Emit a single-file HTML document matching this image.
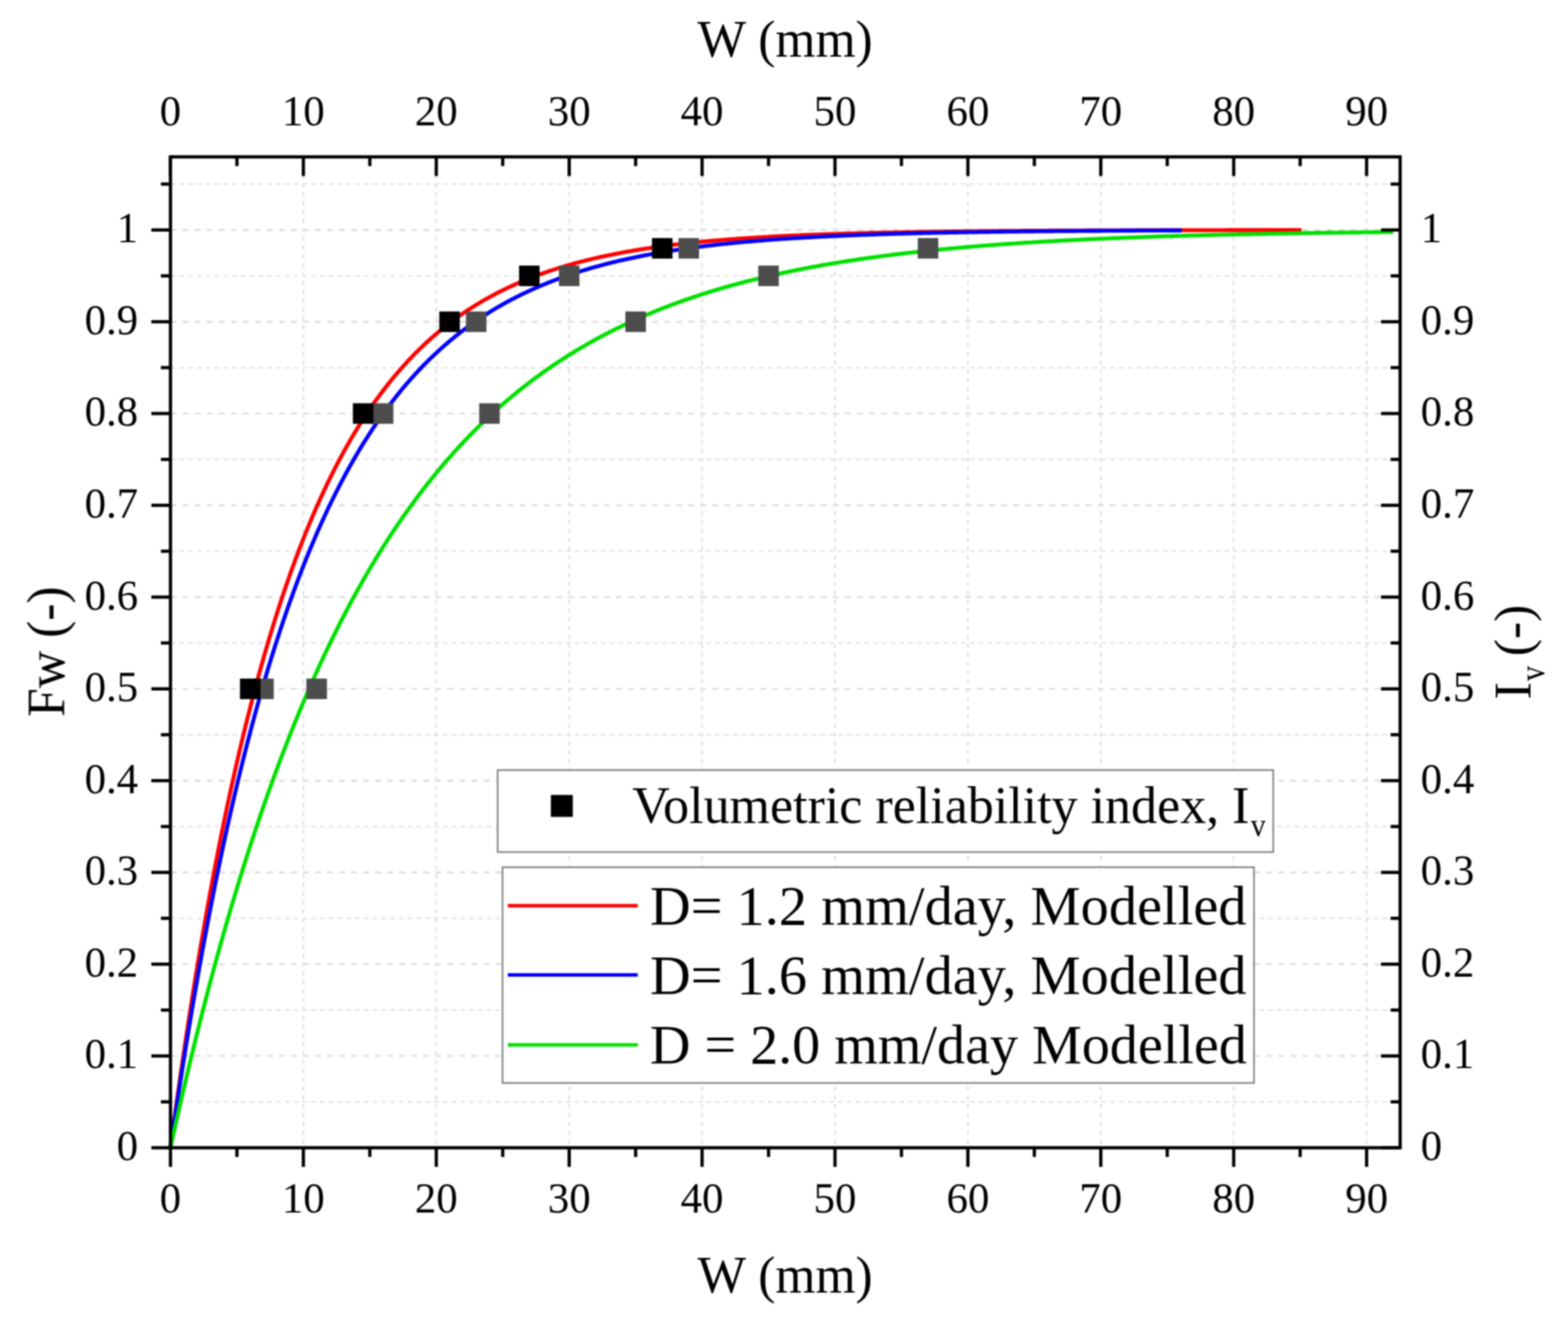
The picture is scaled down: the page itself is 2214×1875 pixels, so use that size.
<!DOCTYPE html><html><head><meta charset="utf-8"><title>Fw vs W</title><style>html,body{margin:0;padding:0;background:#fff;overflow:hidden;}svg{display:block;} text{font-family:'Liberation Serif', 'Times New Roman', serif;fill:#000;}</style></head><body>
<svg width="2214" height="1875" viewBox="0 0 2214 1875">
<rect x="0" y="0" width="2214" height="1875" fill="#fff"/>
<defs><filter id="soft" x="0" y="0" width="2214" height="1875" filterUnits="userSpaceOnUse" color-interpolation-filters="sRGB"><feConvolveMatrix order="5" kernelMatrix="1 4 6 4 1 4 16 24 16 4 6 24 36 24 6 4 16 24 16 4 1 4 6 4 1" divisor="256" edgeMode="duplicate"/></filter></defs>
<g filter="url(#soft)">
<g><line x1="240.7" y1="1555.71" x2="1977.0" y2="1555.71" stroke="#e2e2e2" stroke-width="2.2" stroke-dasharray="7 5.4"/><line x1="240.7" y1="1490.92" x2="1977.0" y2="1490.92" stroke="#dadada" stroke-width="2.4" stroke-dasharray="8.5 8.5"/><line x1="240.7" y1="1426.13" x2="1977.0" y2="1426.13" stroke="#e2e2e2" stroke-width="2.2" stroke-dasharray="7 5.4"/><line x1="240.7" y1="1361.34" x2="1977.0" y2="1361.34" stroke="#dadada" stroke-width="2.4" stroke-dasharray="8.5 8.5"/><line x1="240.7" y1="1296.55" x2="1977.0" y2="1296.55" stroke="#e2e2e2" stroke-width="2.2" stroke-dasharray="7 5.4"/><line x1="240.7" y1="1231.76" x2="1977.0" y2="1231.76" stroke="#dadada" stroke-width="2.4" stroke-dasharray="8.5 8.5"/><line x1="240.7" y1="1166.97" x2="1977.0" y2="1166.97" stroke="#e2e2e2" stroke-width="2.2" stroke-dasharray="7 5.4"/><line x1="240.7" y1="1102.18" x2="1977.0" y2="1102.18" stroke="#dadada" stroke-width="2.4" stroke-dasharray="8.5 8.5"/><line x1="240.7" y1="1037.39" x2="1977.0" y2="1037.39" stroke="#e2e2e2" stroke-width="2.2" stroke-dasharray="7 5.4"/><line x1="240.7" y1="972.60" x2="1977.0" y2="972.60" stroke="#dadada" stroke-width="2.4" stroke-dasharray="8.5 8.5"/><line x1="240.7" y1="907.81" x2="1977.0" y2="907.81" stroke="#e2e2e2" stroke-width="2.2" stroke-dasharray="7 5.4"/><line x1="240.7" y1="843.02" x2="1977.0" y2="843.02" stroke="#dadada" stroke-width="2.4" stroke-dasharray="8.5 8.5"/><line x1="240.7" y1="778.23" x2="1977.0" y2="778.23" stroke="#e2e2e2" stroke-width="2.2" stroke-dasharray="7 5.4"/><line x1="240.7" y1="713.44" x2="1977.0" y2="713.44" stroke="#dadada" stroke-width="2.4" stroke-dasharray="8.5 8.5"/><line x1="240.7" y1="648.65" x2="1977.0" y2="648.65" stroke="#e2e2e2" stroke-width="2.2" stroke-dasharray="7 5.4"/><line x1="240.7" y1="583.86" x2="1977.0" y2="583.86" stroke="#dadada" stroke-width="2.4" stroke-dasharray="8.5 8.5"/><line x1="240.7" y1="519.07" x2="1977.0" y2="519.07" stroke="#e2e2e2" stroke-width="2.2" stroke-dasharray="7 5.4"/><line x1="240.7" y1="454.28" x2="1977.0" y2="454.28" stroke="#dadada" stroke-width="2.4" stroke-dasharray="8.5 8.5"/><line x1="240.7" y1="389.49" x2="1977.0" y2="389.49" stroke="#e2e2e2" stroke-width="2.2" stroke-dasharray="7 5.4"/><line x1="240.7" y1="324.70" x2="1977.0" y2="324.70" stroke="#dadada" stroke-width="2.4" stroke-dasharray="8.5 8.5"/><line x1="240.7" y1="259.91" x2="1977.0" y2="259.91" stroke="#e2e2e2" stroke-width="2.2" stroke-dasharray="7 5.4"/><line x1="428.36" y1="221.5" x2="428.36" y2="1620.5" stroke="#e0e0e0" stroke-width="2.5" stroke-dasharray="6 6.5"/><line x1="616.02" y1="221.5" x2="616.02" y2="1620.5" stroke="#e0e0e0" stroke-width="2.5" stroke-dasharray="6 6.5"/><line x1="803.68" y1="221.5" x2="803.68" y2="1620.5" stroke="#e0e0e0" stroke-width="2.5" stroke-dasharray="6 6.5"/><line x1="991.34" y1="221.5" x2="991.34" y2="1620.5" stroke="#e0e0e0" stroke-width="2.5" stroke-dasharray="6 6.5"/><line x1="1179.00" y1="221.5" x2="1179.00" y2="1620.5" stroke="#e0e0e0" stroke-width="2.5" stroke-dasharray="6 6.5"/><line x1="1366.66" y1="221.5" x2="1366.66" y2="1620.5" stroke="#e0e0e0" stroke-width="2.5" stroke-dasharray="6 6.5"/><line x1="1554.32" y1="221.5" x2="1554.32" y2="1620.5" stroke="#e0e0e0" stroke-width="2.5" stroke-dasharray="6 6.5"/><line x1="1741.98" y1="221.5" x2="1741.98" y2="1620.5" stroke="#e0e0e0" stroke-width="2.5" stroke-dasharray="6 6.5"/><line x1="1929.64" y1="221.5" x2="1929.64" y2="1620.5" stroke="#e0e0e0" stroke-width="2.5" stroke-dasharray="6 6.5"/></g>
<polyline points="240.70,1620.50 240.79,1619.85 240.94,1618.67 241.15,1617.13 241.39,1615.32 241.66,1613.27 241.97,1611.00 242.30,1608.54 242.65,1605.91 243.03,1603.11 243.43,1600.15 243.85,1597.05 244.28,1593.82 244.74,1590.45 245.22,1586.97 245.71,1583.36 246.22,1579.65 246.74,1575.83 247.29,1571.90 247.84,1567.88 248.41,1563.77 249.00,1559.56 249.60,1555.27 250.21,1550.90 250.84,1546.44 251.48,1541.91 252.13,1537.30 252.80,1532.63 253.48,1527.88 254.17,1523.07 254.87,1518.19 255.58,1513.25 256.31,1508.25 257.05,1503.20 257.80,1498.09 258.55,1492.92 259.33,1487.71 260.11,1482.45 260.90,1477.14 261.70,1471.78 262.51,1466.38 263.34,1460.94 264.17,1455.45 265.01,1449.93 265.87,1444.38 266.73,1438.78 267.60,1433.15 268.48,1427.49 269.38,1421.80 270.28,1416.08 271.19,1410.33 272.11,1404.55 273.03,1398.75 273.97,1392.92 274.92,1387.07 275.87,1381.20 276.84,1375.31 277.81,1369.40 278.79,1363.46 279.78,1357.52 280.78,1351.55 281.78,1345.57 282.80,1339.58 283.82,1333.57 284.85,1327.56 285.89,1321.53 286.93,1315.49 287.99,1309.44 289.05,1303.38 290.12,1297.32 291.20,1291.25 292.29,1285.18 293.38,1279.10 294.48,1273.02 295.59,1266.93 296.71,1260.85 297.83,1254.76 298.96,1248.67 300.10,1242.58 301.25,1236.50 302.40,1230.42 303.56,1224.33 304.73,1218.26 305.90,1212.18 307.09,1206.12 308.27,1200.05 309.47,1194.00 310.67,1187.95 311.88,1181.91 313.10,1175.87 314.32,1169.85 315.55,1163.83 316.79,1157.83 318.04,1151.84 319.29,1145.85 320.54,1139.88 321.81,1133.92 323.08,1127.97 324.36,1122.04 325.64,1116.12 326.93,1110.22 328.23,1104.33 329.53,1098.45 330.84,1092.59 332.15,1086.75 333.48,1080.92 334.81,1075.11 336.14,1069.32 337.48,1063.55 338.83,1057.79 340.18,1052.05 341.54,1046.34 342.91,1040.64 344.28,1034.96 345.66,1029.30 347.04,1023.66 348.43,1018.05 349.83,1012.45 351.23,1006.87 352.64,1001.32 354.05,995.79 355.47,990.28 356.90,984.80 358.33,979.33 359.77,973.90 361.21,968.48 362.66,963.09 364.11,957.72 365.57,952.37 367.04,947.06 368.51,941.76 369.99,936.49 371.47,931.25 372.96,926.03 374.46,920.83 375.96,915.66 377.46,910.52 378.97,905.41 380.49,900.32 382.01,895.25 383.54,890.21 385.07,885.20 386.61,880.22 388.15,875.26 389.70,870.33 391.26,865.43 392.82,860.56 394.38,855.71 395.96,850.89 397.53,846.10 399.11,841.33 400.70,836.60 402.29,831.89 403.89,827.21 405.49,822.55 407.10,817.93 408.71,813.33 410.33,808.76 411.95,804.22 413.58,799.71 415.22,795.23 416.85,790.78 418.50,786.35 420.15,781.95 421.80,777.58 423.46,773.24 425.12,768.93 426.79,764.65 428.47,760.39 430.15,756.17 431.83,751.97 433.52,747.80 435.21,743.66 436.91,739.55 438.61,735.47 440.32,731.42 442.04,727.39 443.76,723.39 445.48,719.43 447.21,715.49 448.94,711.57 450.68,707.69 452.42,703.84 454.17,700.01 455.92,696.21 457.68,692.44 459.44,688.70 461.20,684.99 462.98,681.30 464.75,677.65 466.53,674.02 468.32,670.42 470.11,666.84 471.90,663.30 473.70,659.78 475.50,656.29 477.31,652.83 479.13,649.39 480.94,645.98 482.77,642.60 484.59,639.25 486.42,635.92 488.26,632.62 490.10,629.35 491.95,626.11 493.80,622.89 495.65,619.69 497.51,616.53 499.37,613.39 501.24,610.28 503.11,607.19 504.99,604.13 506.87,601.09 508.75,598.09 510.64,595.10 512.54,592.15 514.44,589.21 516.34,586.31 518.25,583.43 520.16,580.57 522.08,577.74 524.00,574.94 525.92,572.16 527.85,569.40 529.79,566.67 531.72,563.96 533.67,561.28 535.61,558.62 537.56,555.99 539.52,553.38 541.48,550.79 543.44,548.23 545.41,545.69 547.38,543.17 549.36,540.68 551.34,538.21 553.32,535.77 555.31,533.34 557.31,530.94 559.30,528.57 561.31,526.21 563.31,523.88 565.32,521.57 567.34,519.28 569.35,517.01 571.38,514.77 573.40,512.54 575.43,510.34 577.47,508.16 579.51,506.00 581.55,503.87 583.60,501.75 585.65,499.66 587.70,497.58 589.76,495.53 591.83,493.49 593.89,491.48 595.97,489.49 598.04,487.51 600.12,485.56 602.20,483.62 604.29,481.71 606.38,479.82 608.48,477.94 610.58,476.08 612.68,474.25 614.79,472.43 616.90,470.63 619.02,468.85 621.14,467.08 623.26,465.34 625.39,463.61 627.52,461.91 629.65,460.22 631.79,458.54 633.94,456.89 636.08,455.25 638.23,453.63 640.39,452.03 642.55,450.44 644.71,448.88 646.88,447.32 649.05,445.79 651.22,444.27 653.40,442.77 655.58,441.28 657.76,439.81 659.95,438.36 662.15,436.92 664.34,435.50 666.54,434.09 668.75,432.70 670.96,431.33 673.17,429.97 675.39,428.62 677.61,427.29 679.83,425.97 682.06,424.67 684.29,423.39 686.52,422.12 688.76,420.86 691.00,419.61 693.25,418.39 695.50,417.17 697.75,415.97 700.01,414.78 702.27,413.61 704.53,412.45 706.80,411.30 709.07,410.16 711.35,409.04 713.63,407.93 715.91,406.84 718.20,405.75 720.49,404.68 722.78,403.63 725.08,402.58 727.38,401.55 729.68,400.53 731.99,399.52 734.30,398.52 736.62,397.53 738.94,396.56 741.26,395.60 743.59,394.65 745.92,393.71 748.25,392.78 750.59,391.86 752.93,390.95 755.27,390.06 757.62,389.17 759.97,388.30 762.33,387.44 764.69,386.58 767.05,385.74 769.41,384.91 771.78,384.09 774.16,383.27 776.53,382.47 778.91,381.68 781.30,380.90 783.68,380.12 786.07,379.36 788.47,378.60 790.86,377.86 793.26,377.12 795.67,376.40 798.08,375.68 800.49,374.97 802.90,374.27 805.32,373.58 807.74,372.90 810.17,372.23 812.59,371.56 815.03,370.90 817.46,370.25 819.90,369.61 822.34,368.98 824.79,368.36 827.24,367.74 829.69,367.13 832.15,366.53 834.61,365.94 837.07,365.35 839.53,364.78 842.00,364.21 844.48,363.64 846.95,363.09 849.43,362.54 851.91,362.00 854.40,361.46 856.89,360.94 859.38,360.41 861.88,359.90 864.38,359.39 866.88,358.89 869.39,358.40 871.90,357.91 874.41,357.43 876.93,356.96 879.45,356.49 881.97,356.03 884.50,355.57 887.03,355.12 889.56,354.68 892.10,354.24 894.64,353.81 897.18,353.38 899.72,352.96 902.27,352.54 904.83,352.13 907.38,351.73 909.94,351.33 912.50,350.94 915.07,350.55 917.64,350.17 920.21,349.79 922.79,349.42 925.37,349.05 927.95,348.69 930.53,348.33 933.12,347.98 935.71,347.63 938.31,347.29 940.91,346.95 943.51,346.62 946.11,346.29 948.72,345.96 951.33,345.64 953.95,345.33 956.56,345.02 959.18,344.71 961.81,344.41 964.43,344.11 967.06,343.82 969.70,343.53 972.33,343.24 974.97,342.96 977.62,342.68 980.26,342.41 982.91,342.14 985.56,341.87 988.22,341.61 990.88,341.35 993.54,341.09 996.21,340.84 998.87,340.59 1001.54,340.35 1004.22,340.11 1006.90,339.87 1009.58,339.64 1012.26,339.40 1014.95,339.18 1017.64,338.95 1020.33,338.73 1023.03,338.51 1025.73,338.30 1028.43,338.09 1031.13,337.88 1033.84,337.67 1036.55,337.47 1039.27,337.27 1041.99,337.07 1044.71,336.88 1047.43,336.69 1050.16,336.50 1052.89,336.32 1055.62,336.13 1058.36,335.95 1061.10,335.77 1063.84,335.60 1066.58,335.43 1069.33,335.26 1072.08,335.09 1074.84,334.93 1077.60,334.76 1080.36,334.60 1083.12,334.45 1085.89,334.29 1088.66,334.14 1091.43,333.99 1094.20,333.84 1096.98,333.69 1099.76,333.55 1102.55,333.41 1105.34,333.27 1108.13,333.13 1110.92,332.99 1113.72,332.86 1116.52,332.73 1119.32,332.60 1122.13,332.47 1124.93,332.35 1127.75,332.22 1130.56,332.10 1133.38,331.98 1136.20,331.86 1139.02,331.75 1141.85,331.63 1144.68,331.52 1147.51,331.41 1150.34,331.30 1153.18,331.19 1156.02,331.08 1158.87,330.98 1161.72,330.88 1164.57,330.77 1167.42,330.67 1170.27,330.58 1173.13,330.48 1175.99,330.38 1178.86,330.29 1181.73,330.20 1184.60,330.11 1187.47,330.02 1190.35,329.93 1193.23,329.84 1196.11,329.76 1198.99,329.67 1201.88,329.59 1204.77,329.51 1207.67,329.43 1210.56,329.35 1213.46,329.27 1216.36,329.20 1219.27,329.12 1222.18,329.05 1225.09,328.97 1228.00,328.90 1230.92,328.83 1233.84,328.76 1236.76,328.69 1239.69,328.63 1242.61,328.56 1245.54,328.50 1248.48,328.43 1251.42,328.37 1254.35,328.31 1257.30,328.25 1260.24,328.19 1263.19,328.13 1266.14,328.07 1269.10,328.01 1272.05,327.95 1275.01,327.90 1277.97,327.84 1280.94,327.79 1283.91,327.74 1286.88,327.69 1289.85,327.64 1292.83,327.58 1295.81,327.54 1298.79,327.49 1301.77,327.44 1304.76,327.39 1307.75,327.35 1310.74,327.30 1313.74,327.26 1316.74,327.21 1319.74,327.17 1322.74,327.13 1325.75,327.08 1328.76,327.04 1331.77,327.00 1334.79,326.96 1337.81,326.92 1340.83,326.88 1343.85,326.85 1346.88,326.81 1349.91,326.77 1352.94,326.74 1355.97,326.70 1359.01,326.66 1362.05,326.63 1365.09,326.60 1368.14,326.56 1371.19,326.53 1374.24,326.50 1377.29,326.47 1380.35,326.44 1383.41,326.41 1386.47,326.38 1389.54,326.35 1392.61,326.32 1395.68,326.29 1398.75,326.26 1401.82,326.23 1404.90,326.21 1407.98,326.18 1411.07,326.15 1414.16,326.13 1417.24,326.10 1420.34,326.08 1423.43,326.05 1426.53,326.03 1429.63,326.00 1432.73,325.98 1435.84,325.96 1438.95,325.94 1442.06,325.91 1445.17,325.89 1448.29,325.87 1451.41,325.85 1454.53,325.83 1457.65,325.81 1460.78,325.79 1463.91,325.77 1467.04,325.75 1470.18,325.73 1473.31,325.71 1476.45,325.69 1479.60,325.68 1482.74,325.66 1485.89,325.64 1489.04,325.62 1492.20,325.61 1495.35,325.59 1498.51,325.57 1501.67,325.56 1504.84,325.54 1508.00,325.53 1511.17,325.51 1514.35,325.50 1517.52,325.48 1520.70,325.47 1523.88,325.45 1527.06,325.44 1530.25,325.43 1533.44,325.41 1536.63,325.40 1539.82,325.39 1543.01,325.38 1546.21,325.36 1549.41,325.35 1552.62,325.34 1555.82,325.33 1559.03,325.32 1562.25,325.30 1565.46,325.29 1568.68,325.28 1571.90,325.27 1575.12,325.26 1578.34,325.25 1581.57,325.24 1584.80,325.23 1588.03,325.22 1591.27,325.21 1594.50,325.20 1597.74,325.19 1600.99,325.18 1604.23,325.17 1607.48,325.16 1610.73,325.16 1613.98,325.15 1617.24,325.14 1620.50,325.13 1623.76,325.12 1627.02,325.11 1630.29,325.11 1633.55,325.10 1636.82,325.09 1640.10,325.08 1643.37,325.08 1646.65,325.07 1649.93,325.06 1653.22,325.06 1656.50,325.05 1659.79,325.04 1663.08,325.04 1666.38,325.03 1669.67,325.02 1672.97,325.02 1676.27,325.01 1679.58,325.01 1682.88,325.00 1686.19,324.99 1689.51,324.99 1692.82,324.98 1696.14,324.98 1699.45,324.97 1702.78,324.97 1706.10,324.96 1709.43,324.96 1712.76,324.95 1716.09,324.95 1719.42,324.94 1722.76,324.94 1726.10,324.93 1729.44,324.93 1732.78,324.92 1736.13,324.92 1739.48,324.92 1742.83,324.91 1746.19,324.91 1749.54,324.90 1752.90,324.90 1756.26,324.90 1759.63,324.89 1762.99,324.89 1766.36,324.88 1769.74,324.88 1773.11,324.88 1776.49,324.87 1779.87,324.87 1783.25,324.87 1786.63,324.86 1790.02,324.86 1793.41,324.86 1796.80,324.85 1800.19,324.85 1803.59,324.85 1806.99,324.85 1810.39,324.84 1813.79,324.84 1817.20,324.84 1820.61,324.83 1824.02,324.83 1827.43,324.83 1830.85,324.83 1834.27,324.82 1837.69,324.82" fill="none" stroke="#ff0000" stroke-width="5.6" stroke-linejoin="round"/>
<polyline points="240.70,1620.50 240.78,1619.96 240.92,1618.99 241.10,1617.72 241.32,1616.23 241.56,1614.53 241.83,1612.66 242.13,1610.63 242.44,1608.45 242.78,1606.13 243.14,1603.69 243.51,1601.12 243.91,1598.45 244.31,1595.66 244.74,1592.77 245.18,1589.78 245.64,1586.70 246.10,1583.53 246.59,1580.27 247.09,1576.93 247.60,1573.51 248.12,1570.01 248.66,1566.44 249.21,1562.80 249.77,1559.09 250.34,1555.31 250.92,1551.46 251.52,1547.56 252.12,1543.59 252.74,1539.57 253.37,1535.49 254.01,1531.35 254.66,1527.16 255.32,1522.93 255.99,1518.64 256.67,1514.30 257.36,1509.92 258.05,1505.49 258.76,1501.02 259.48,1496.51 260.21,1491.96 260.94,1487.36 261.69,1482.73 262.44,1478.07 263.21,1473.36 263.98,1468.63 264.76,1463.86 265.55,1459.05 266.34,1454.22 267.15,1449.36 267.96,1444.47 268.78,1439.55 269.61,1434.61 270.45,1429.64 271.30,1424.64 272.15,1419.62 273.01,1414.58 273.88,1409.52 274.76,1404.43 275.65,1399.33 276.54,1394.21 277.44,1389.07 278.34,1383.91 279.26,1378.74 280.18,1373.55 281.11,1368.34 282.05,1363.12 282.99,1357.89 283.94,1352.64 284.90,1347.39 285.86,1342.12 286.83,1336.84 287.81,1331.55 288.79,1326.26 289.79,1320.95 290.78,1315.64 291.79,1310.32 292.80,1305.00 293.82,1299.66 294.84,1294.33 295.88,1288.99 296.91,1283.64 297.96,1278.29 299.01,1272.94 300.06,1267.59 301.13,1262.24 302.20,1256.88 303.27,1251.53 304.36,1246.17 305.44,1240.82 306.54,1235.47 307.64,1230.12 308.74,1224.77 309.86,1219.42 310.98,1214.08 312.10,1208.74 313.23,1203.40 314.37,1198.07 315.51,1192.75 316.66,1187.43 317.81,1182.11 318.97,1176.80 320.13,1171.50 321.31,1166.21 322.48,1160.92 323.66,1155.64 324.85,1150.37 326.05,1145.11 327.25,1139.86 328.45,1134.62 329.66,1129.38 330.88,1124.16 332.10,1118.95 333.32,1113.75 334.56,1108.56 335.79,1103.38 337.04,1098.21 338.29,1093.06 339.54,1087.92 340.80,1082.79 342.06,1077.67 343.33,1072.57 344.61,1067.48 345.89,1062.40 347.17,1057.34 348.46,1052.30 349.76,1047.26 351.06,1042.25 352.37,1037.25 353.68,1032.26 354.99,1027.29 356.32,1022.34 357.64,1017.40 358.97,1012.48 360.31,1007.57 361.65,1002.68 363.00,997.81 364.35,992.96 365.71,988.12 367.07,983.30 368.43,978.50 369.80,973.72 371.18,968.95 372.56,964.21 373.95,959.48 375.34,954.77 376.73,950.08 378.13,945.41 379.54,940.76 380.95,936.12 382.36,931.51 383.78,926.92 385.20,922.34 386.63,917.79 388.06,913.25 389.50,908.74 390.94,904.25 392.39,899.77 393.84,895.32 395.30,890.89 396.76,886.47 398.22,882.08 399.69,877.71 401.17,873.36 402.65,869.03 404.13,864.73 405.62,860.44 407.11,856.17 408.61,851.93 410.11,847.71 411.62,843.51 413.13,839.33 414.64,835.17 416.16,831.03 417.68,826.92 419.21,822.83 420.74,818.76 422.28,814.71 423.82,810.68 425.37,806.67 426.92,802.69 428.47,798.73 430.03,794.79 431.59,790.87 433.16,786.98 434.73,783.10 436.30,779.25 437.88,775.42 439.47,771.62 441.06,767.83 442.65,764.07 444.24,760.33 445.85,756.61 447.45,752.91 449.06,749.24 450.67,745.59 452.29,741.96 453.91,738.35 455.54,734.76 457.17,731.20 458.80,727.66 460.44,724.14 462.08,720.64 463.72,717.17 465.37,713.72 467.03,710.29 468.69,706.88 470.35,703.49 472.02,700.13 473.69,696.78 475.36,693.46 477.04,690.16 478.72,686.88 480.41,683.63 482.10,680.39 483.79,677.18 485.49,673.99 487.19,670.82 488.90,667.67 490.61,664.55 492.32,661.44 494.04,658.36 495.76,655.30 497.48,652.26 499.21,649.24 500.95,646.24 502.68,643.26 504.42,640.31 506.17,637.37 507.92,634.46 509.67,631.56 511.42,628.69 513.18,625.84 514.95,623.01 516.72,620.20 518.49,617.41 520.26,614.64 522.04,611.89 523.82,609.16 525.61,606.45 527.40,603.77 529.19,601.10 530.99,598.45 532.79,595.82 534.60,593.21 536.40,590.63 538.22,588.06 540.03,585.51 541.85,582.98 543.68,580.47 545.50,577.98 547.33,575.51 549.17,573.06 551.01,570.62 552.85,568.21 554.69,565.82 556.54,563.44 558.39,561.08 560.25,558.74 562.11,556.43 563.97,554.12 565.84,551.84 567.71,549.58 569.58,547.33 571.46,545.11 573.34,542.90 575.23,540.70 577.12,538.53 579.01,536.38 580.90,534.24 582.80,532.12 584.70,530.02 586.61,527.93 588.52,525.86 590.43,523.81 592.35,521.78 594.27,519.76 596.19,517.77 598.12,515.78 600.05,513.82 601.98,511.87 603.92,509.94 605.86,508.02 607.80,506.12 609.75,504.24 611.70,502.38 613.66,500.53 615.61,498.69 617.58,496.87 619.54,495.07 621.51,493.29 623.48,491.51 625.45,489.76 627.43,488.02 629.41,486.30 631.40,484.59 633.39,482.89 635.38,481.22 637.37,479.55 639.37,477.90 641.37,476.27 643.38,474.65 645.39,473.05 647.40,471.46 649.41,469.88 651.43,468.32 653.45,466.77 655.48,465.24 657.51,463.72 659.54,462.22 661.57,460.73 663.61,459.25 665.65,457.79 667.70,456.34 669.75,454.90 671.80,453.48 673.85,452.07 675.91,450.68 677.97,449.29 680.03,447.92 682.10,446.57 684.17,445.22 686.25,443.89 688.32,442.57 690.40,441.27 692.49,439.97 694.57,438.69 696.66,437.42 698.76,436.17 700.85,434.92 702.95,433.69 705.06,432.47 707.16,431.26 709.27,430.06 711.38,428.88 713.50,427.71 715.62,426.54 717.74,425.39 719.86,424.25 721.99,423.12 724.12,422.01 726.26,420.90 728.40,419.81 730.54,418.72 732.68,417.65 734.83,416.59 736.98,415.53 739.13,414.49 741.29,413.46 743.44,412.44 745.61,411.43 747.77,410.43 749.94,409.44 752.11,408.46 754.29,407.49 756.46,406.53 758.65,405.58 760.83,404.64 763.02,403.71 765.21,402.79 767.40,401.88 769.60,400.98 771.79,400.08 774.00,399.20 776.20,398.32 778.41,397.46 780.62,396.60 782.84,395.75 785.05,394.92 787.27,394.09 789.50,393.26 791.72,392.45 793.95,391.65 796.19,390.85 798.42,390.06 800.66,389.29 802.90,388.51 805.14,387.75 807.39,387.00 809.64,386.25 811.90,385.51 814.15,384.78 816.41,384.06 818.67,383.35 820.94,382.64 823.21,381.94 825.48,381.25 827.75,380.56 830.03,379.89 832.31,379.22 834.59,378.55 836.88,377.90 839.16,377.25 841.46,376.61 843.75,375.98 846.05,375.35 848.35,374.73 850.65,374.11 852.96,373.51 855.27,372.91 857.58,372.32 859.89,371.73 862.21,371.15 864.53,370.57 866.85,370.01 869.18,369.45 871.51,368.89 873.84,368.34 876.18,367.80 878.51,367.26 880.85,366.73 883.20,366.21 885.54,365.69 887.89,365.18 890.25,364.67 892.60,364.17 894.96,363.68 897.32,363.19 899.68,362.70 902.05,362.22 904.42,361.75 906.79,361.28 909.16,360.82 911.54,360.36 913.92,359.91 916.30,359.47 918.69,359.02 921.08,358.59 923.47,358.16 925.87,357.73 928.26,357.31 930.66,356.89 933.06,356.48 935.47,356.07 937.88,355.67 940.29,355.28 942.70,354.88 945.12,354.49 947.54,354.11 949.96,353.73 952.39,353.36 954.81,352.99 957.24,352.62 959.68,352.26 962.11,351.90 964.55,351.55 966.99,351.20 969.44,350.86 971.88,350.52 974.33,350.18 976.79,349.85 979.24,349.52 981.70,349.19 984.16,348.87 986.62,348.56 989.09,348.24 991.56,347.93 994.03,347.63 996.50,347.33 998.98,347.03 1001.46,346.73 1003.94,346.44 1006.42,346.16 1008.91,345.87 1011.40,345.59 1013.89,345.31 1016.39,345.04 1018.89,344.77 1021.39,344.50 1023.89,344.24 1026.40,343.98 1028.91,343.72 1031.42,343.47 1033.93,343.22 1036.45,342.97 1038.97,342.72 1041.49,342.48 1044.02,342.24 1046.54,342.01 1049.07,341.77 1051.61,341.54 1054.14,341.32 1056.68,341.09 1059.22,340.87 1061.76,340.65 1064.31,340.44 1066.86,340.22 1069.41,340.01 1071.96,339.80 1074.52,339.60 1077.08,339.40 1079.64,339.20 1082.21,339.00 1084.77,338.80 1087.34,338.61 1089.91,338.42 1092.49,338.23 1095.07,338.05 1097.65,337.86 1100.23,337.68 1102.81,337.50 1105.40,337.33 1107.99,337.15 1110.58,336.98 1113.18,336.81 1115.78,336.65 1118.38,336.48 1120.98,336.32 1123.59,336.16 1126.19,336.00 1128.81,335.84 1131.42,335.69 1134.03,335.53 1136.65,335.38 1139.27,335.23 1141.90,335.09 1144.52,334.94 1147.15,334.80 1149.78,334.66 1152.42,334.52 1155.05,334.38 1157.69,334.24 1160.33,334.11 1162.98,333.98 1165.62,333.85 1168.27,333.72 1170.92,333.59 1173.58,333.47 1176.24,333.34 1178.89,333.22 1181.56,333.10 1184.22,332.98 1186.89,332.86 1189.56,332.75 1192.23,332.63 1194.90,332.52 1197.58,332.41 1200.26,332.30 1202.94,332.19 1205.62,332.08 1208.31,331.98 1211.00,331.87 1213.69,331.77 1216.38,331.67 1219.08,331.57 1221.78,331.47 1224.48,331.37 1227.18,331.28 1229.89,331.18 1232.60,331.09 1235.31,331.00 1238.03,330.91 1240.74,330.82 1243.46,330.73 1246.18,330.64 1248.90,330.56 1251.63,330.47 1254.36,330.39 1257.09,330.30 1259.82,330.22 1262.56,330.14 1265.30,330.06 1268.04,329.99 1270.78,329.91 1273.53,329.83 1276.28,329.76 1279.03,329.68 1281.78,329.61 1284.53,329.54 1287.29,329.47 1290.05,329.40 1292.82,329.33 1295.58,329.26 1298.35,329.19 1301.12,329.13 1303.89,329.06 1306.67,329.00 1309.44,328.93 1312.22,328.87 1315.00,328.81 1317.79,328.75 1320.58,328.69 1323.36,328.63 1326.16,328.57 1328.95,328.51 1331.75,328.46 1334.54,328.40 1337.35,328.35 1340.15,328.29 1342.96,328.24 1345.76,328.19 1348.57,328.13 1351.39,328.08 1354.20,328.03 1357.02,327.98 1359.84,327.93 1362.66,327.88 1365.49,327.84 1368.32,327.79 1371.15,327.74 1373.98,327.70 1376.81,327.65 1379.65,327.61 1382.49,327.56 1385.33,327.52 1388.17,327.48 1391.02,327.44 1393.87,327.39 1396.72,327.35 1399.57,327.31 1402.43,327.27 1405.28,327.23 1408.15,327.20 1411.01,327.16 1413.87,327.12 1416.74,327.08 1419.61,327.05 1422.48,327.01 1425.36,326.98 1428.23,326.94 1431.11,326.91 1433.99,326.87 1436.88,326.84 1439.76,326.81 1442.65,326.77 1445.54,326.74 1448.43,326.71 1451.33,326.68 1454.23,326.65 1457.12,326.62 1460.03,326.59 1462.93,326.56 1465.84,326.53 1468.75,326.50 1471.66,326.48 1474.57,326.45 1477.49,326.42 1480.41,326.39 1483.33,326.37 1486.25,326.34 1489.17,326.32 1492.10,326.29 1495.03,326.27 1497.96,326.24 1500.90,326.22 1503.83,326.19 1506.77,326.17 1509.71,326.15 1512.66,326.13 1515.60,326.10 1518.55,326.08 1521.50,326.06 1524.45,326.04 1527.41,326.02 1530.36,326.00 1533.32,325.98 1536.28,325.96 1539.25,325.94 1542.21,325.92 1545.18,325.90 1548.15,325.88 1551.12,325.86 1554.10,325.84 1557.07,325.82 1560.05,325.81 1563.04,325.79 1566.02,325.77 1569.01,325.75 1571.99,325.74 1574.98,325.72 1577.98,325.71 1580.97,325.69 1583.97,325.67 1586.97,325.66 1589.97,325.64 1592.97,325.63 1595.98,325.61 1598.99,325.60 1602.00,325.58 1605.01,325.57 1608.03,325.56 1611.05,325.54 1614.06,325.53 1617.09,325.52 1620.11,325.50 1623.14,325.49 1626.16,325.48 1629.20,325.46 1632.23,325.45 1635.26,325.44 1638.30,325.43 1641.34,325.42 1644.38,325.40 1647.42,325.39 1650.47,325.38 1653.52,325.37 1656.57,325.36 1659.62,325.35 1662.68,325.34 1665.73,325.33 1668.79,325.32" fill="none" stroke="#0000ff" stroke-width="5.6" stroke-linejoin="round"/>
<polyline points="240.70,1620.50 240.79,1620.07 240.96,1619.29 241.18,1618.28 241.45,1617.08 241.74,1615.73 242.07,1614.23 242.43,1612.60 242.81,1610.86 243.22,1609.00 243.65,1607.05 244.10,1604.99 244.58,1602.84 245.07,1600.61 245.58,1598.29 246.12,1595.89 246.67,1593.41 247.23,1590.87 247.82,1588.25 248.42,1585.56 249.04,1582.80 249.67,1579.99 250.32,1577.11 250.98,1574.17 251.66,1571.18 252.35,1568.13 253.06,1565.02 253.78,1561.86 254.51,1558.66 255.26,1555.40 256.02,1552.09 256.79,1548.74 257.57,1545.35 258.37,1541.90 259.18,1538.42 260.00,1534.90 260.84,1531.33 261.68,1527.73 262.54,1524.09 263.40,1520.41 264.28,1516.69 265.17,1512.94 266.07,1509.16 266.99,1505.34 267.91,1501.49 268.84,1497.61 269.78,1493.70 270.74,1489.76 271.70,1485.79 272.67,1481.80 273.66,1477.77 274.65,1473.72 275.66,1469.65 276.67,1465.55 277.69,1461.42 278.72,1457.28 279.77,1453.11 280.82,1448.92 281.88,1444.70 282.95,1440.47 284.03,1436.22 285.11,1431.95 286.21,1427.65 287.31,1423.35 288.43,1419.02 289.55,1414.68 290.68,1410.32 291.82,1405.94 292.97,1401.56 294.13,1397.15 295.30,1392.73 296.47,1388.30 297.65,1383.86 298.84,1379.40 300.04,1374.94 301.25,1370.46 302.46,1365.97 303.69,1361.47 304.92,1356.96 306.16,1352.44 307.40,1347.92 308.66,1343.38 309.92,1338.84 311.19,1334.29 312.47,1329.73 313.75,1325.17 315.05,1320.60 316.35,1316.02 317.65,1311.44 318.97,1306.86 320.29,1302.27 321.62,1297.67 322.96,1293.08 324.31,1288.48 325.66,1283.87 327.02,1279.27 328.38,1274.66 329.76,1270.05 331.14,1265.44 332.53,1260.83 333.92,1256.22 335.32,1251.61 336.73,1246.99 338.15,1242.38 339.57,1237.77 341.00,1233.16 342.44,1228.55 343.88,1223.95 345.33,1219.34 346.78,1214.74 348.25,1210.14 349.72,1205.55 351.19,1200.95 352.68,1196.36 354.17,1191.78 355.66,1187.20 357.17,1182.62 358.68,1178.05 360.19,1173.48 361.71,1168.92 363.24,1164.36 364.78,1159.81 366.32,1155.26 367.87,1150.72 369.42,1146.19 370.98,1141.67 372.55,1137.15 374.12,1132.64 375.70,1128.13 377.28,1123.64 378.87,1119.15 380.47,1114.67 382.08,1110.19 383.68,1105.73 385.30,1101.28 386.92,1096.83 388.55,1092.39 390.18,1087.96 391.82,1083.55 393.47,1079.14 395.12,1074.74 396.78,1070.35 398.44,1065.97 400.11,1061.60 401.79,1057.25 403.47,1052.90 405.15,1048.56 406.85,1044.24 408.54,1039.92 410.25,1035.62 411.96,1031.33 413.67,1027.05 415.39,1022.79 417.12,1018.53 418.85,1014.29 420.59,1010.06 422.33,1005.84 424.08,1001.63 425.84,997.44 427.60,993.26 429.37,989.09 431.14,984.94 432.91,980.80 434.70,976.67 436.48,972.55 438.28,968.45 440.08,964.37 441.88,960.29 443.69,956.23 445.51,952.19 447.33,948.16 449.15,944.14 450.98,940.13 452.82,936.15 454.66,932.17 456.51,928.21 458.36,924.27 460.22,920.33 462.08,916.42 463.95,912.52 465.82,908.63 467.70,904.76 469.59,900.90 471.48,897.06 473.37,893.24 475.27,889.43 477.17,885.63 479.08,881.85 481.00,878.09 482.92,874.34 484.84,870.60 486.77,866.89 488.71,863.18 490.65,859.50 492.59,855.83 494.54,852.17 496.50,848.53 498.46,844.91 500.42,841.30 502.39,837.71 504.37,834.14 506.35,830.58 508.33,827.04 510.32,823.51 512.32,820.00 514.32,816.50 516.32,813.03 518.33,809.56 520.35,806.12 522.36,802.69 524.39,799.28 526.42,795.88 528.45,792.50 530.49,789.13 532.53,785.79 534.58,782.46 536.63,779.14 538.69,775.84 540.75,772.56 542.82,769.29 544.89,766.05 546.97,762.81 549.05,759.60 551.13,756.40 553.22,753.21 555.32,750.05 557.42,746.89 559.52,743.76 561.63,740.64 563.75,737.54 565.87,734.46 567.99,731.39 570.12,728.34 572.25,725.30 574.38,722.28 576.53,719.28 578.67,716.29 580.82,713.32 582.98,710.37 585.14,707.43 587.30,704.51 589.47,701.60 591.64,698.71 593.82,695.84 596.00,692.99 598.19,690.15 600.38,687.32 602.57,684.51 604.77,681.72 606.98,678.95 609.19,676.19 611.40,673.44 613.62,670.72 615.84,668.00 618.07,665.31 620.30,662.63 622.53,659.97 624.77,657.32 627.02,654.69 629.26,652.07 631.52,649.47 633.77,646.88 636.03,644.31 638.30,641.76 640.57,639.22 642.84,636.70 645.12,634.19 647.40,631.70 649.69,629.23 651.98,626.77 654.28,624.32 656.58,621.89 658.88,619.48 661.19,617.08 663.50,614.69 665.82,612.32 668.14,609.97 670.47,607.63 672.80,605.31 675.13,603.00 677.47,600.70 679.81,598.42 682.15,596.16 684.50,593.91 686.86,591.68 689.22,589.46 691.58,587.25 693.95,585.06 696.32,582.88 698.69,580.72 701.07,578.57 703.46,576.44 705.84,574.32 708.23,572.22 710.63,570.12 713.03,568.05 715.43,565.99 717.84,563.94 720.25,561.90 722.67,559.88 725.09,557.88 727.51,555.88 729.94,553.91 732.37,551.94 734.81,549.99 737.25,548.05 739.69,546.13 742.14,544.21 744.59,542.32 747.05,540.43 749.51,538.56 751.97,536.70 754.44,534.86 756.91,533.03 759.39,531.21 761.87,529.41 764.35,527.61 766.84,525.83 769.33,524.07 771.83,522.31 774.33,520.57 776.83,518.84 779.34,517.13 781.85,515.42 784.36,513.73 786.88,512.05 789.40,510.39 791.93,508.73 794.46,507.09 797.00,505.46 799.53,503.85 802.08,502.24 804.62,500.65 807.17,499.07 809.73,497.50 812.28,495.94 814.84,494.39 817.41,492.86 819.98,491.34 822.55,489.83 825.13,488.33 827.71,486.84 830.29,485.36 832.88,483.90 835.47,482.44 838.07,481.00 840.67,479.57 843.27,478.15 845.88,476.74 848.49,475.34 851.10,473.95 853.72,472.57 856.34,471.21 858.96,469.85 861.59,468.51 864.23,467.17 866.86,465.85 869.50,464.54 872.15,463.23 874.79,461.94 877.45,460.66 880.10,459.39 882.76,458.12 885.42,456.87 888.09,455.63 890.76,454.40 893.43,453.18 896.11,451.96 898.79,450.76 901.47,449.57 904.16,448.39 906.85,447.21 909.55,446.05 912.25,444.90 914.95,443.75 917.65,442.62 920.36,441.49 923.08,440.37 925.79,439.27 928.51,438.17 931.24,437.08 933.97,436.00 936.70,434.93 939.43,433.87 942.17,432.81 944.91,431.77 947.66,430.73 950.41,429.71 953.16,428.69 955.92,427.68 958.68,426.68 961.44,425.68 964.21,424.70 966.98,423.72 969.75,422.75 972.53,421.79 975.31,420.84 978.09,419.90 980.88,418.97 983.67,418.04 986.47,417.12 989.26,416.21 992.07,415.30 994.87,414.41 997.68,413.52 1000.49,412.64 1003.31,411.77 1006.13,410.90 1008.95,410.05 1011.78,409.20 1014.61,408.35 1017.44,407.52 1020.28,406.69 1023.12,405.87 1025.96,405.06 1028.81,404.25 1031.66,403.45 1034.51,402.66 1037.37,401.88 1040.23,401.10 1043.09,400.33 1045.96,399.56 1048.83,398.81 1051.70,398.06 1054.58,397.31 1057.46,396.58 1060.35,395.85 1063.23,395.12 1066.13,394.41 1069.02,393.69 1071.92,392.99 1074.82,392.29 1077.72,391.60 1080.63,390.92 1083.54,390.24 1086.46,389.56 1089.38,388.90 1092.30,388.24 1095.22,387.58 1098.15,386.93 1101.08,386.29 1104.02,385.65 1106.96,385.02 1109.90,384.40 1112.84,383.78 1115.79,383.17 1118.74,382.56 1121.70,381.96 1124.65,381.36 1127.61,380.77 1130.58,380.18 1133.55,379.60 1136.52,379.03 1139.49,378.46 1142.47,377.89 1145.45,377.34 1148.44,376.78 1151.42,376.24 1154.41,375.69 1157.41,375.15 1160.41,374.62 1163.41,374.09 1166.41,373.57 1169.42,373.05 1172.43,372.54 1175.44,372.03 1178.46,371.53 1181.48,371.03 1184.50,370.54 1187.53,370.05 1190.56,369.57 1193.59,369.09 1196.63,368.61 1199.67,368.14 1202.71,367.68 1205.76,367.22 1208.81,366.76 1211.86,366.31 1214.91,365.86 1217.97,365.42 1221.03,364.98 1224.10,364.54 1227.17,364.11 1230.24,363.69 1233.31,363.26 1236.39,362.85 1239.47,362.43 1242.56,362.02 1245.64,361.62 1248.74,361.21 1251.83,360.82 1254.93,360.42 1258.03,360.03 1261.13,359.65 1264.24,359.26 1267.34,358.89 1270.46,358.51 1273.57,358.14 1276.69,357.77 1279.81,357.41 1282.94,357.05 1286.07,356.69 1289.20,356.34 1292.33,355.99 1295.47,355.65 1298.61,355.30 1301.76,354.96 1304.90,354.63 1308.05,354.30 1311.21,353.97 1314.36,353.64 1317.52,353.32 1320.68,353.00 1323.85,352.69 1327.02,352.38 1330.19,352.07 1333.36,351.76 1336.54,351.46 1339.72,351.16 1342.91,350.86 1346.09,350.57 1349.29,350.28 1352.48,349.99 1355.67,349.70 1358.87,349.42 1362.08,349.14 1365.28,348.87 1368.49,348.60 1371.70,348.33 1374.92,348.06 1378.13,347.79 1381.35,347.53 1384.58,347.27 1387.81,347.02 1391.04,346.76 1394.27,346.51 1397.50,346.26 1400.74,346.02 1403.98,345.77 1407.23,345.53 1410.48,345.29 1413.73,345.06 1416.98,344.83 1420.24,344.59 1423.50,344.37 1426.76,344.14 1430.03,343.92 1433.30,343.70 1436.57,343.48 1439.84,343.26 1443.12,343.05 1446.40,342.83 1449.69,342.63 1452.97,342.42 1456.26,342.21 1459.55,342.01 1462.85,341.81 1466.15,341.61 1469.45,341.41 1472.76,341.22 1476.06,341.03 1479.37,340.84 1482.69,340.65 1486.00,340.46 1489.32,340.28 1492.64,340.10 1495.97,339.92 1499.30,339.74 1502.63,339.56 1505.96,339.39 1509.30,339.21 1512.64,339.04 1515.98,338.87 1519.33,338.71 1522.68,338.54 1526.03,338.38 1529.38,338.22 1532.74,338.06 1536.10,337.90 1539.46,337.74 1542.83,337.59 1546.20,337.44 1549.57,337.29 1552.95,337.14 1556.32,336.99 1559.70,336.84 1563.09,336.70 1566.47,336.55 1569.86,336.41 1573.26,336.27 1576.65,336.13 1580.05,336.00 1583.45,335.86 1586.85,335.73 1590.26,335.60 1593.67,335.47 1597.08,335.34 1600.50,335.21 1603.91,335.08 1607.34,334.96 1610.76,334.83 1614.19,334.71 1617.62,334.59 1621.05,334.47 1624.48,334.35 1627.92,334.24 1631.36,334.12 1634.81,334.01 1638.25,333.89 1641.70,333.78 1645.15,333.67 1648.61,333.56 1652.07,333.46 1655.53,333.35 1658.99,333.24 1662.46,333.14 1665.93,333.04 1669.40,332.93 1672.87,332.83 1676.35,332.73 1679.83,332.64 1683.31,332.54 1686.80,332.44 1690.29,332.35 1693.78,332.25 1697.27,332.16 1700.77,332.07 1704.27,331.98 1707.77,331.89 1711.28,331.80 1714.79,331.71 1718.30,331.62 1721.81,331.54 1725.33,331.45 1728.85,331.37 1732.37,331.29 1735.90,331.21 1739.42,331.13 1742.95,331.05 1746.49,330.97 1750.02,330.89 1753.56,330.81 1757.10,330.74 1760.65,330.66 1764.20,330.59 1767.75,330.51 1771.30,330.44 1774.85,330.37 1778.41,330.30 1781.97,330.23 1785.54,330.16 1789.10,330.09 1792.67,330.02 1796.24,329.95 1799.82,329.89 1803.40,329.82 1806.98,329.76 1810.56,329.70 1814.14,329.63 1817.73,329.57 1821.32,329.51 1824.92,329.45 1828.51,329.39 1832.11,329.33 1835.71,329.27 1839.32,329.21 1842.93,329.15 1846.54,329.10 1850.15,329.04 1853.76,328.99 1857.38,328.93 1861.00,328.88 1864.63,328.82 1868.25,328.77 1871.88,328.72 1875.51,328.67 1879.15,328.62 1882.78,328.57 1886.42,328.52 1890.07,328.47 1893.71,328.42 1897.36,328.37 1901.01,328.33 1904.66,328.28 1908.32,328.23 1911.98,328.19 1915.64,328.14 1919.30,328.10 1922.97,328.05 1926.64,328.01 1930.31,327.97 1933.98,327.93 1937.66,327.88 1941.34,327.84 1945.02,327.80 1948.71,327.76 1952.39,327.72 1956.09,327.68 1959.78,327.64 1963.47,327.61 1967.17,327.57" fill="none" stroke="#00e000" stroke-width="5.6" stroke-linejoin="round"/>
<rect x="357.56" y="958.10" width="29" height="29" fill="#4d4d4d"/>
<rect x="526.46" y="569.36" width="29" height="29" fill="#4d4d4d"/>
<rect x="657.82" y="439.78" width="29" height="29" fill="#4d4d4d"/>
<rect x="789.18" y="374.99" width="29" height="29" fill="#4d4d4d"/>
<rect x="958.07" y="336.12" width="29" height="29" fill="#4d4d4d"/>
<rect x="432.63" y="958.10" width="29" height="29" fill="#4d4d4d"/>
<rect x="676.58" y="569.36" width="29" height="29" fill="#4d4d4d"/>
<rect x="883.01" y="439.78" width="29" height="29" fill="#4d4d4d"/>
<rect x="1070.67" y="374.99" width="29" height="29" fill="#4d4d4d"/>
<rect x="1295.86" y="336.12" width="29" height="29" fill="#4d4d4d"/>
<rect x="338.80" y="958.10" width="29" height="29" fill="#000"/>
<rect x="498.31" y="569.36" width="29" height="29" fill="#000"/>
<rect x="620.29" y="439.78" width="29" height="29" fill="#000"/>
<rect x="732.88" y="374.99" width="29" height="29" fill="#000"/>
<rect x="920.54" y="336.12" width="29" height="29" fill="#000"/>
<g stroke="#000" stroke-width="4.6" stroke-linecap="butt"><rect x="240.70" y="221.50" width="1736.30" height="1399.00" fill="none" stroke="#000" stroke-width="4.6"/><line x1="240.70" y1="1620.50" x2="240.70" y2="1647.50"/><line x1="240.70" y1="221.50" x2="240.70" y2="248.50"/><line x1="334.53" y1="1620.50" x2="334.53" y2="1633.50"/><line x1="334.53" y1="221.50" x2="334.53" y2="234.50"/><line x1="428.36" y1="1620.50" x2="428.36" y2="1647.50"/><line x1="428.36" y1="221.50" x2="428.36" y2="248.50"/><line x1="522.19" y1="1620.50" x2="522.19" y2="1633.50"/><line x1="522.19" y1="221.50" x2="522.19" y2="234.50"/><line x1="616.02" y1="1620.50" x2="616.02" y2="1647.50"/><line x1="616.02" y1="221.50" x2="616.02" y2="248.50"/><line x1="709.85" y1="1620.50" x2="709.85" y2="1633.50"/><line x1="709.85" y1="221.50" x2="709.85" y2="234.50"/><line x1="803.68" y1="1620.50" x2="803.68" y2="1647.50"/><line x1="803.68" y1="221.50" x2="803.68" y2="248.50"/><line x1="897.51" y1="1620.50" x2="897.51" y2="1633.50"/><line x1="897.51" y1="221.50" x2="897.51" y2="234.50"/><line x1="991.34" y1="1620.50" x2="991.34" y2="1647.50"/><line x1="991.34" y1="221.50" x2="991.34" y2="248.50"/><line x1="1085.17" y1="1620.50" x2="1085.17" y2="1633.50"/><line x1="1085.17" y1="221.50" x2="1085.17" y2="234.50"/><line x1="1179.00" y1="1620.50" x2="1179.00" y2="1647.50"/><line x1="1179.00" y1="221.50" x2="1179.00" y2="248.50"/><line x1="1272.83" y1="1620.50" x2="1272.83" y2="1633.50"/><line x1="1272.83" y1="221.50" x2="1272.83" y2="234.50"/><line x1="1366.66" y1="1620.50" x2="1366.66" y2="1647.50"/><line x1="1366.66" y1="221.50" x2="1366.66" y2="248.50"/><line x1="1460.49" y1="1620.50" x2="1460.49" y2="1633.50"/><line x1="1460.49" y1="221.50" x2="1460.49" y2="234.50"/><line x1="1554.32" y1="1620.50" x2="1554.32" y2="1647.50"/><line x1="1554.32" y1="221.50" x2="1554.32" y2="248.50"/><line x1="1648.15" y1="1620.50" x2="1648.15" y2="1633.50"/><line x1="1648.15" y1="221.50" x2="1648.15" y2="234.50"/><line x1="1741.98" y1="1620.50" x2="1741.98" y2="1647.50"/><line x1="1741.98" y1="221.50" x2="1741.98" y2="248.50"/><line x1="1835.81" y1="1620.50" x2="1835.81" y2="1633.50"/><line x1="1835.81" y1="221.50" x2="1835.81" y2="234.50"/><line x1="1929.64" y1="1620.50" x2="1929.64" y2="1647.50"/><line x1="1929.64" y1="221.50" x2="1929.64" y2="248.50"/><line x1="240.70" y1="1620.50" x2="213.70" y2="1620.50"/><line x1="1977.00" y1="1620.50" x2="1950.00" y2="1620.50"/><line x1="240.70" y1="1555.71" x2="227.20" y2="1555.71"/><line x1="1977.00" y1="1555.71" x2="1963.50" y2="1555.71"/><line x1="240.70" y1="1490.92" x2="213.70" y2="1490.92"/><line x1="1977.00" y1="1490.92" x2="1950.00" y2="1490.92"/><line x1="240.70" y1="1426.13" x2="227.20" y2="1426.13"/><line x1="1977.00" y1="1426.13" x2="1963.50" y2="1426.13"/><line x1="240.70" y1="1361.34" x2="213.70" y2="1361.34"/><line x1="1977.00" y1="1361.34" x2="1950.00" y2="1361.34"/><line x1="240.70" y1="1296.55" x2="227.20" y2="1296.55"/><line x1="1977.00" y1="1296.55" x2="1963.50" y2="1296.55"/><line x1="240.70" y1="1231.76" x2="213.70" y2="1231.76"/><line x1="1977.00" y1="1231.76" x2="1950.00" y2="1231.76"/><line x1="240.70" y1="1166.97" x2="227.20" y2="1166.97"/><line x1="1977.00" y1="1166.97" x2="1963.50" y2="1166.97"/><line x1="240.70" y1="1102.18" x2="213.70" y2="1102.18"/><line x1="1977.00" y1="1102.18" x2="1950.00" y2="1102.18"/><line x1="240.70" y1="1037.39" x2="227.20" y2="1037.39"/><line x1="1977.00" y1="1037.39" x2="1963.50" y2="1037.39"/><line x1="240.70" y1="972.60" x2="213.70" y2="972.60"/><line x1="1977.00" y1="972.60" x2="1950.00" y2="972.60"/><line x1="240.70" y1="907.81" x2="227.20" y2="907.81"/><line x1="1977.00" y1="907.81" x2="1963.50" y2="907.81"/><line x1="240.70" y1="843.02" x2="213.70" y2="843.02"/><line x1="1977.00" y1="843.02" x2="1950.00" y2="843.02"/><line x1="240.70" y1="778.23" x2="227.20" y2="778.23"/><line x1="1977.00" y1="778.23" x2="1963.50" y2="778.23"/><line x1="240.70" y1="713.44" x2="213.70" y2="713.44"/><line x1="1977.00" y1="713.44" x2="1950.00" y2="713.44"/><line x1="240.70" y1="648.65" x2="227.20" y2="648.65"/><line x1="1977.00" y1="648.65" x2="1963.50" y2="648.65"/><line x1="240.70" y1="583.86" x2="213.70" y2="583.86"/><line x1="1977.00" y1="583.86" x2="1950.00" y2="583.86"/><line x1="240.70" y1="519.07" x2="227.20" y2="519.07"/><line x1="1977.00" y1="519.07" x2="1963.50" y2="519.07"/><line x1="240.70" y1="454.28" x2="213.70" y2="454.28"/><line x1="1977.00" y1="454.28" x2="1950.00" y2="454.28"/><line x1="240.70" y1="389.49" x2="227.20" y2="389.49"/><line x1="1977.00" y1="389.49" x2="1963.50" y2="389.49"/><line x1="240.70" y1="324.70" x2="213.70" y2="324.70"/><line x1="1977.00" y1="324.70" x2="1950.00" y2="324.70"/><line x1="240.70" y1="259.91" x2="227.20" y2="259.91"/><line x1="1977.00" y1="259.91" x2="1963.50" y2="259.91"/></g>
<g class="tl"><text x="240.70" y="1712" text-anchor="middle" font-size="60.5">0</text><text x="240.70" y="176.5" text-anchor="middle" font-size="60.5">0</text><text x="428.36" y="1712" text-anchor="middle" font-size="60.5">10</text><text x="428.36" y="176.5" text-anchor="middle" font-size="60.5">10</text><text x="616.02" y="1712" text-anchor="middle" font-size="60.5">20</text><text x="616.02" y="176.5" text-anchor="middle" font-size="60.5">20</text><text x="803.68" y="1712" text-anchor="middle" font-size="60.5">30</text><text x="803.68" y="176.5" text-anchor="middle" font-size="60.5">30</text><text x="991.34" y="1712" text-anchor="middle" font-size="60.5">40</text><text x="991.34" y="176.5" text-anchor="middle" font-size="60.5">40</text><text x="1179.00" y="1712" text-anchor="middle" font-size="60.5">50</text><text x="1179.00" y="176.5" text-anchor="middle" font-size="60.5">50</text><text x="1366.66" y="1712" text-anchor="middle" font-size="60.5">60</text><text x="1366.66" y="176.5" text-anchor="middle" font-size="60.5">60</text><text x="1554.32" y="1712" text-anchor="middle" font-size="60.5">70</text><text x="1554.32" y="176.5" text-anchor="middle" font-size="60.5">70</text><text x="1741.98" y="1712" text-anchor="middle" font-size="60.5">80</text><text x="1741.98" y="176.5" text-anchor="middle" font-size="60.5">80</text><text x="1929.64" y="1712" text-anchor="middle" font-size="60.5">90</text><text x="1929.64" y="176.5" text-anchor="middle" font-size="60.5">90</text><text x="195" y="1638.00" text-anchor="end" font-size="60.5">0</text><text x="2006" y="1638.00" text-anchor="start" font-size="60.5">0</text><text x="195" y="1508.42" text-anchor="end" font-size="60.5">0.1</text><text x="2006" y="1508.42" text-anchor="start" font-size="60.5">0.1</text><text x="195" y="1378.84" text-anchor="end" font-size="60.5">0.2</text><text x="2006" y="1378.84" text-anchor="start" font-size="60.5">0.2</text><text x="195" y="1249.26" text-anchor="end" font-size="60.5">0.3</text><text x="2006" y="1249.26" text-anchor="start" font-size="60.5">0.3</text><text x="195" y="1119.68" text-anchor="end" font-size="60.5">0.4</text><text x="2006" y="1119.68" text-anchor="start" font-size="60.5">0.4</text><text x="195" y="990.10" text-anchor="end" font-size="60.5">0.5</text><text x="2006" y="990.10" text-anchor="start" font-size="60.5">0.5</text><text x="195" y="860.52" text-anchor="end" font-size="60.5">0.6</text><text x="2006" y="860.52" text-anchor="start" font-size="60.5">0.6</text><text x="195" y="730.94" text-anchor="end" font-size="60.5">0.7</text><text x="2006" y="730.94" text-anchor="start" font-size="60.5">0.7</text><text x="195" y="601.36" text-anchor="end" font-size="60.5">0.8</text><text x="2006" y="601.36" text-anchor="start" font-size="60.5">0.8</text><text x="195" y="471.78" text-anchor="end" font-size="60.5">0.9</text><text x="2006" y="471.78" text-anchor="start" font-size="60.5">0.9</text><text x="195" y="342.20" text-anchor="end" font-size="60.5">1</text><text x="2006" y="342.20" text-anchor="start" font-size="60.5">1</text></g>
<g transform="translate(25.091 -0.991) scale(0.97791 1.00303)"><text x="1108" y="81" text-anchor="middle" font-size="74.5">W (mm)</text></g>
<g transform="translate(25.091 -6.582) scale(0.97791 1.00303)"><text x="1108" y="1826.5" text-anchor="middle" font-size="74.5">W (mm)</text></g>
<g transform="translate(-0.118 19.142) scale(1.01364 0.97814)"><text transform="translate(89.4 921) rotate(-90)" text-anchor="middle" font-size="74.5">Fw (-)</text></g>
<g transform="translate(9.316 0.800) scale(0.99592 1.00000)"><text transform="translate(2160.3 987) rotate(-90)" font-size="74.5">I</text></g>
<g transform="translate(-196.838 74.787) scale(1.09048 0.92174)"><text transform="translate(2180 962) rotate(-90)" font-size="46">v</text></g>
<g transform="translate(7.591 12.059) scale(0.99697 0.97794)"><text transform="translate(2160.3 935) rotate(-90)" font-size="74.5">(-)</text></g>
<rect x="702.7" y="1087.3" width="1095.1" height="115.7" fill="#fff" stroke="#858585" stroke-width="2.4"/>
<rect x="777.8" y="1122.4" width="31" height="31" fill="#000"/>
<g transform="translate(8.326 0.000) scale(0.99257 1.00000)"><text x="891" y="1162" font-size="74">Volumetric reliability index, I</text></g>
<g transform="translate(139.130 -44.890) scale(0.92174 1.03810)"><text x="1765" y="1181" font-size="46">v</text></g>
<rect x="709.6" y="1224.4" width="1061.0" height="304.6" fill="#fff" stroke="#858585" stroke-width="2.4"/>
<line x1="717" y1="1278.8" x2="900.5" y2="1278.8" stroke="#ff0000" stroke-width="5.0" stroke-linecap="butt"/>
<g transform="translate(-7.600 0.000) scale(1.00804 1.00000)"><text x="918" y="1305.1" font-size="79">D= 1.2 mm/day, Modelled</text></g>
<line x1="717" y1="1376.6" x2="900.5" y2="1376.6" stroke="#0000ff" stroke-width="5.0" stroke-linecap="butt"/>
<g transform="translate(-7.600 0.000) scale(1.00804 1.00000)"><text x="918" y="1403.1" font-size="79">D= 1.6 mm/day, Modelled</text></g>
<line x1="717" y1="1475.2" x2="900.5" y2="1475.2" stroke="#00e000" stroke-width="5.0" stroke-linecap="butt"/>
<g transform="translate(-2.066 0.000) scale(1.00203 1.00000)"><text x="918" y="1501.0" font-size="79">D = 2.0 mm/day Modelled</text></g>
</g>
</svg></body></html>
